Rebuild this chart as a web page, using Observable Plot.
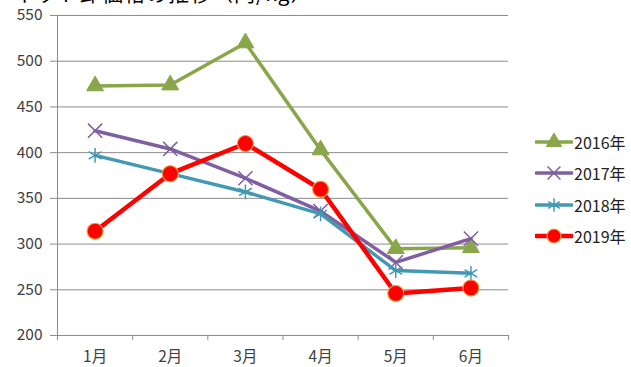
<!DOCTYPE html>
<html>
<head>
<meta charset="utf-8">
<script src="https://cdn.jsdelivr.net/npm/d3@7"></script>
<script src="https://cdn.jsdelivr.net/npm/@observablehq/plot@0.6"></script>
<style>
  body { margin: 0; background: #fff; font-family: "Noto Sans CJK JP", sans-serif; }
  #wrap { position: relative; width: 631px; height: 367px; overflow: hidden; }
  #title { position: absolute; left: 14px; top: -23px; font-size: 21px; letter-spacing: 1px; color: #000; white-space: nowrap; }
  #legend { position: absolute; left: 535px; top: 126px; font-size: 16px; color: #222; }
  .item { display: flex; align-items: center; height: 31.5px; }
  .item svg { margin-right: 1px; }
</style>
</head>
<body>
<div id="wrap">
  <div id="chart"></div>
  <div id="title">ネット卸価格の推移（円/kg）</div>
  <div id="legend"></div>
</div>
<script>
const months = ["1月", "2月", "3月", "4月", "5月", "6月"];
const seriesNames = ["2016年", "2017年", "2018年", "2019年"];
const v2016 = [473, 474, 520, 403, 295, 296];
const v2017 = [424, 404, 372, 336, 280, 306];
const v2018 = [397, 377, 357, 333, 271, 268];
const v2019 = [314, 377, 410, 360, 246, 252];
const yTicks = [200, 250, 300, 350, 400, 450, 500, 550];

const styles = [
  {color: "#8AA64A", symbol: "triangle", r: 6.3, fill: "#8AA64A", stroke: "#8AA64A", sw: 1, lw: 3.5},
  {color: "#7F5FA0", symbol: "times", r: 6.5, fill: "none", stroke: "#7F5FA0", sw: 1.5, lw: 3.5},
  {color: "#4399B3", symbol: "asterisk", r: 7, fill: "none", stroke: "#4399B3", sw: 1.5, lw: 3.5},
  {color: "#FF0000", symbol: "circle", r: 8, fill: "#FF0000", stroke: "#F0A040", sw: 1.2, lw: 4.5}
];
const allValues = [v2016, v2017, v2018, v2019];
const data = allValues.map((vals, s) => vals.map((v, i) => ({x: i + 1, y: v, s})));

const marks = [
  Plot.gridY(yTicks, {stroke: "#8C8C8C", strokeOpacity: 1, strokeWidth: 1}),
  Plot.axisY({ticks: yTicks, tickSize: 7, tickPadding: 8, stroke: "#8C8C8C", fill: "#404040", fontSize: 15.5, label: null}),
  Plot.axisX({ticks: [0.5, 1.5, 2.5, 3.5, 4.5, 5.5, 6.5], tickSize: 5, tickFormat: () => "", stroke: "#8C8C8C", label: null}),
  Plot.axisX({ticks: [1, 2, 3, 4, 5, 6], tickSize: 0, tickPadding: 15, tickFormat: d => months[d - 1], fill: "#404040", fontSize: 15.5, label: null}),
  Plot.ruleY([200], {stroke: "#8C8C8C"}),
  Plot.ruleX([0.5], {y1: 200, y2: 550, stroke: "#8C8C8C"})
];
data.forEach((d, s) => {
  const st = styles[s];
  marks.push(Plot.line(d, {x: "x", y: "y", stroke: st.color, strokeWidth: st.lw, strokeLinejoin: "round"}));
  marks.push(Plot.dot(d, {x: "x", y: "y", symbol: st.symbol, r: st.r, fill: st.fill, stroke: st.stroke, strokeWidth: st.sw}));
});

const chart = Plot.plot({
  width: 631,
  height: 367,
  marginLeft: 57,
  marginRight: 123,
  marginTop: 15,
  marginBottom: 32,
  style: {fontFamily: "'Noto Sans CJK JP', sans-serif", background: "#fff"},
  x: {type: "linear", domain: [0.5, 6.5], axis: null},
  y: {domain: [200, 550], axis: null},
  marks
});
document.getElementById("chart").appendChild(chart);

// legend
const legend = document.getElementById("legend");
seriesNames.forEach((name, s) => {
  const st = styles[s];
  const item = document.createElement("div");
  item.className = "item";
  const svg = d3.create("svg").attr("width", 38).attr("height", 20);
  svg.append("line").attr("x1", 1).attr("x2", 37).attr("y1", 10).attr("y2", 10)
    .attr("stroke", st.color).attr("stroke-width", st.lw).attr("stroke-linecap", "round");
  const sym = {triangle: d3.symbolTriangle, times: d3.symbolTimes, asterisk: d3.symbolAsterisk, circle: d3.symbolCircle}[st.symbol];
  const area = st.symbol === "circle" ? Math.PI * 7 * 7 : st.r * st.r * 2.6;
  svg.append("path").attr("transform", "translate(19,10)")
    .attr("d", d3.symbol(sym, area)())
    .attr("fill", st.fill).attr("stroke", st.stroke).attr("stroke-width", st.sw);
  item.appendChild(svg.node());
  const t = document.createElement("span");
  t.textContent = name;
  item.appendChild(t);
  legend.appendChild(item);
});
</script>
</body>
</html>
